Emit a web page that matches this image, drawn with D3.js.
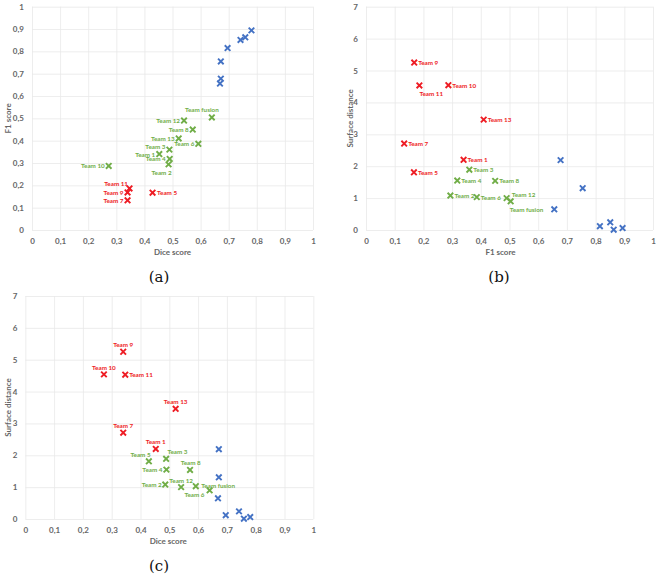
<!DOCTYPE html>
<html>
<head>
<meta charset="utf-8">
<script src="https://cdn.jsdelivr.net/npm/d3@7"></script>
<style>
  body { margin: 0; background: #fff; }
  svg { display: block; }
  .tick text { font-family: Lato, "Open Sans", sans-serif; font-size: 8px; font-weight: bold; fill: #666; }
</style>
</head>
<body>
<svg width="660" height="578"></svg>
<script>
"use strict"

// teams (named markers)
const teams = ["Team 1", "Team 2", "Team 3", "Team 4", "Team 5", "Team 6", "Team 7",
  "Team 8", "Team 9", "Team 10", "Team 11", "Team 12", "Team 13", "Team fusion"]
const teamDice = [0.453, 0.486, 0.489, 0.49, 0.429, 0.592, 0.34, 0.572, 0.34, 0.273, 0.347, 0.541, 0.522, 0.64]
const teamF1 = [0.34, 0.294, 0.36, 0.318, 0.167, 0.386, 0.133, 0.45, 0.168, 0.287, 0.186, 0.49, 0.41, 0.504]
const teamSurf = [2.2, 1.08, 1.89, 1.55, 1.81, 1.03, 2.71, 1.54, 5.25, 4.54, 4.53, 1.0, 3.46, 0.9]

// unlabelled (blue) markers
const refDice = [0.672, 0.672, 0.669, 0.696, 0.742, 0.759, 0.781]
const refF1 = [0.678, 0.755, 0.656, 0.815, 0.851, 0.863, 0.894]
const refSurf = [2.19, 1.31, 0.65, 0.12, 0.24, 0.01, 0.06]

// which teams are red in each panel (others green)
const redA = ["Team 5", "Team 7", "Team 9", "Team 11"]
const redB = ["Team 1", "Team 5", "Team 7", "Team 9", "Team 10", "Team 11", "Team 13"]
const redC = ["Team 1", "Team 7", "Team 9", "Team 10", "Team 11", "Team 13"]

const ticks01 = [0, 0.1, 0.2, 0.3, 0.4, 0.5, 0.6, 0.7, 0.8, 0.9, 1]
const ticks07 = [0, 1, 2, 3, 4, 5, 6, 7]

const RED = "#ee1c24", GREEN = "#70ad47", BLUE = "#4472c4"

// label placement: [anchor, dx, dy]
const placeA = {
  "Team fusion": ["middle", -10, -8], "Team 2": ["middle", -7, 8],
  "Team 3": ["end", -4, -3], "Team 11": ["end", -1.5, -5], "Team 5": ["start", 4.5, 0]
}
const placeB = {
  "Team 11": ["start", 0, 8.5], "Team 12": ["start", 5, -4], "Team fusion": ["start", -1, 8]
}
const placeC = {
  "Team 9": ["middle", 0, -7.3], "Team 10": ["middle", 0, -7.3], "Team 11": ["start", 4, 0],
  "Team 13": ["middle", 0, -7], "Team 7": ["middle", 0, -7.3], "Team 1": ["middle", 0, -7.3],
  "Team 5": ["middle", -8.3, -7], "Team 3": ["middle", 11.3, -7], "Team 8": ["middle", 0.7, -7],
  "Team 4": ["end", -4, 0], "Team 2": ["end", -3.5, 0], "Team 12": ["middle", 0, -7],
  "Team fusion": ["start", -8.3, -5.3], "Team 6": ["middle", -1.3, 8.3]
}

const svg = d3.select("svg")
svg.append("rect").attr("width", 660).attr("height", 578).attr("fill", "#fff")

const fmt = d => d3.format("~g")(d).replace(".", ",")
const sans = "Lato, 'Open Sans', sans-serif"

function drawPanel(p) {
  const w = p.x1 - p.x0, h = p.y1 - p.y0
  const g = svg.append("g").attr("transform", `translate(${p.x0},${p.y0})`)
  const scX = d3.scaleLinear().domain([0, 1]).range([0, w])
  const scY = d3.scaleLinear().domain([0, p.yMax]).range([h, 0])

  // grid + ticks
  const ax = g.append("g").attr("transform", `translate(0,${h})`)
    .call(d3.axisBottom(scX).tickValues(ticks01).tickSize(-h).tickPadding(8.5).tickFormat(fmt))
  const ay = g.append("g")
    .call(d3.axisLeft(scY).tickValues(p.yTicks).tickSize(-w).tickPadding(8).tickFormat(fmt))
  for (const a of [ax, ay]) {
    a.select(".domain").remove()
    a.selectAll("line").attr("stroke", "#e8e8e8").attr("stroke-width", 0.8)
  }

  // axis titles
  g.append("text").attr("x", w / 2 + p.titleXdx).attr("y", h + p.titleY)
    .attr("text-anchor", "middle").attr("dominant-baseline", "central")
    .style("font-family", sans).style("font-size", "8px").style("font-weight", "bold")
    .attr("fill", "#666").text(p.xTitle)
  g.append("text")
    .attr("transform", `translate(${p.yTitleX},${h / 2}) rotate(-90)`)
    .attr("text-anchor", "middle").attr("dominant-baseline", "central")
    .style("font-family", sans).style("font-size", "8px").style("font-weight", "bold")
    .attr("fill", "#666").text(p.yTitle)

  const pts = teams.map((t, i) => ({
    name: t, x: p.xs[i], y: p.ys[i], color: p.red.includes(t) ? RED : GREEN
  }))
  const refs = refDice.map((d, i) => ({ x: p.rx[i], y: p.ry[i], color: BLUE }))

  const r = 2.8
  const cross = `M${-r},${-r}L${r},${r}M${-r},${r}L${r},${-r}`
  g.selectAll(".mk").data(refs.concat(pts)).enter().append("path")
    .attr("class", "mk")
    .attr("d", cross)
    .attr("transform", d => `translate(${scX(d.x)},${scY(d.y)})`)
    .attr("stroke", d => d.color).attr("stroke-width", 1.9).attr("fill", "none")

  g.selectAll(".lbl").data(pts).enter().append("text")
    .attr("class", "lbl")
    .each(function (d) {
      const pl = p.place[d.name] || p.def
      d3.select(this)
        .attr("x", scX(d.x) + pl[1]).attr("y", scY(d.y) + pl[2])
        .attr("text-anchor", pl[0])
    })
    .attr("dominant-baseline", "central")
    .style("font-family", sans).style("font-size", "6.3px").style("font-weight", "bold")
    .attr("fill", d => d.color).text(d => d.name)

  svg.append("text").attr("x", p.capX).attr("y", p.capY)
    .attr("text-anchor", "middle").attr("dominant-baseline", "central")
    .style("font-family", "'DejaVu Serif', 'Liberation Serif', serif").style("font-size", "15px")
    .attr("fill", "#111").text(p.caption)
}

drawPanel({
  x0: 32, x1: 313, y0: 6.7, y1: 230, yMax: 1, yTicks: ticks01,
  xs: teamDice, ys: teamF1, rx: refDice, ry: refF1, red: redA,
  place: placeA, def: ["end", -4, 0],
  xTitle: "Dice score", yTitle: "F1 score", titleXdx: 0, titleY: 22.5, yTitleX: -24,
  caption: "(a)", capX: 159, capY: 277
})
drawPanel({
  x0: 366, x1: 653, y0: 6.7, y1: 230, yMax: 7, yTicks: ticks07,
  xs: teamF1, ys: teamSurf, rx: refF1, ry: refSurf, red: redB,
  place: placeB, def: ["start", 4, 0],
  xTitle: "F1 score", yTitle: "Surface distance", titleXdx: -9, titleY: 22.5, yTitleX: -16,
  caption: "(b)", capX: 499, capY: 277
})
drawPanel({
  x0: 25.3, x1: 313.3, y0: 296, y1: 519, yMax: 7, yTicks: ticks07,
  xs: teamDice, ys: teamSurf, rx: refDice, ry: refSurf, red: redC,
  place: placeC, def: ["end", -4, 0],
  xTitle: "Dice score", yTitle: "Surface distance", titleXdx: -1, titleY: 22, yTitleX: -17,
  caption: "(c)", capX: 159, capY: 566
})
</script>
</body>
</html>
